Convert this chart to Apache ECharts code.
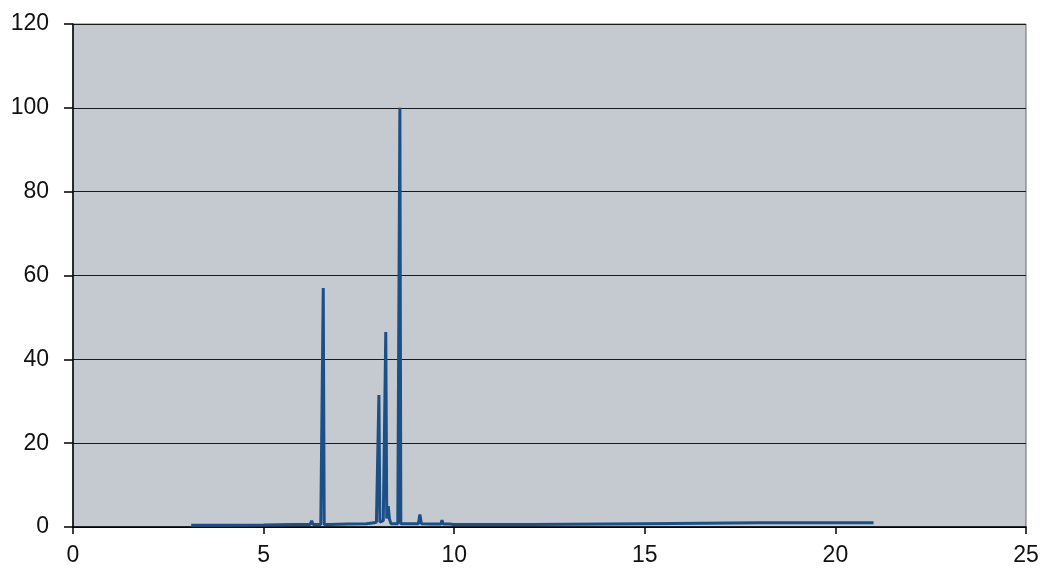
<!DOCTYPE html>
<html><head><meta charset="utf-8">
<script src="https://cdn.jsdelivr.net/npm/echarts@6/dist/echarts.min.js"></script>
<style>html,body{margin:0;padding:0;background:#fff}#c{width:1044px;height:568px}</style>
</head><body><div id="c"></div>
<script>
var xValues = [3.1, 4.0, 5.0, 5.8, 6.22, 6.26, 6.3, 6.5, 6.54, 6.565, 6.59, 6.75, 7.2, 7.7, 7.9, 7.96, 8.0, 8.025, 8.05, 8.14, 8.18, 8.205, 8.23, 8.27, 8.3, 8.34, 8.52, 8.55, 8.575, 8.6, 8.8, 9.06, 9.1, 9.14, 9.4, 9.65, 9.68, 9.71, 9.88, 9.93, 9.98, 12, 15, 18, 21];
var yValues = [0.4, 0.4, 0.5, 0.6, 0.6, 1.5, 0.6, 0.6, 0.6, 57, 0.6, 0.6, 0.7, 0.8, 1.0, 1.2, 1.2, 31.5, 1.2, 1.5, 1.5, 46.5, 2, 5, 2, 0.8, 0.8, 0.8, 100, 0.8, 0.8, 0.8, 3, 0.8, 0.7, 0.7, 1.6, 0.7, 0.7, 1.0, 0.6, 0.6, 0.8, 1.0, 1.0];
var xTicks = [0, 5, 10, 15, 20, 25];
var yTicks = [0, 20, 40, 60, 80, 100, 120];

var data = xValues.map(function (x, i) { return [x, yValues[i]]; });
var chart = echarts.init(document.getElementById('c'));
var font = 'Liberation Sans, Arial, sans-serif';
chart.setOption({
  animation: false,
  backgroundColor: '#ffffff',
  grid: { left: 73, right: 18, top: 24, bottom: 41, show: true, backgroundColor: '#c4cad0', borderColor: '#6b6b6b', borderWidth: 1 },
  xAxis: {
    type: 'value', min: xTicks[0], max: xTicks[xTicks.length - 1], interval: 5,
    axisLine: { show: true, onZero: false, lineStyle: { color: '#000', width: 1.5 } },
    axisTick: { show: true, length: 7, lineStyle: { color: '#000', width: 1.5 } },
    axisLabel: { color: '#111', fontSize: 23, fontFamily: font, margin: 17 },
    splitLine: { show: false }
  },
  yAxis: {
    type: 'value', min: yTicks[0], max: yTicks[yTicks.length - 1], interval: 20,
    axisLine: { show: true, lineStyle: { color: '#000', width: 1.5 } },
    axisTick: { show: true, length: 9, lineStyle: { color: '#000', width: 1.5 } },
    axisLabel: { color: '#111', fontSize: 23, fontFamily: font, margin: 24 },
    splitLine: { show: true, lineStyle: { color: '#1a1a1a', width: 1.2 } }
  },
  series: [{
    type: 'line', data: data, showSymbol: false, symbol: 'none',
    lineStyle: { color: '#1b4f86', width: 3 },
    z: 3
  }]
});
</script></body></html>
